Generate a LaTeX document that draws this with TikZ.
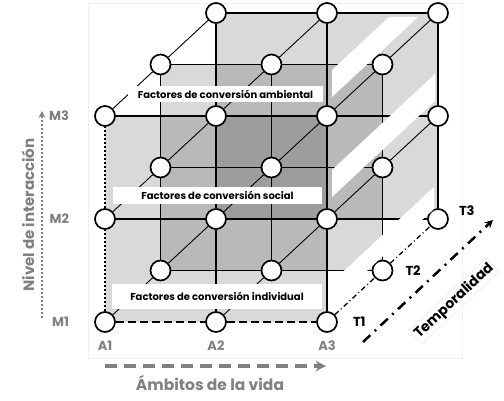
\documentclass[tikz,border=0pt]{standalone}
\usepackage{fontspec}
\setmainfont{Poppins}
\usepackage{xcolor}
\usepackage{tikz}
\usetikzlibrary{positioning}
\definecolor{axisgray}{gray}{0.5}
\tikzset{knot/.style={circle,draw,fill=white,line width=1.7pt,minimum size=20pt,inner sep=0pt}}
\tikzset{layer/.style={fill=black,fill opacity=0.15}}
\tikzset{gloss/.style={fill=white}}
\tikzset{frontline/.style={line width=2pt}}
\tikzset{backline/.style={line width=1.5pt}}
\tikzset{midline/.style={line width=1.2pt}}
\tikzset{diagline/.style={line width=0.9pt}}
\tikzset{band/.style={fill=white,inner sep=0pt,font=\fontsize{10}{12}\selectfont\bfseries}}
\tikzset{axlab/.style={text=axisgray,inner sep=0pt,font=\fontsize{13}{15}\selectfont\bfseries}}
\tikzset{tlab/.style={inner sep=0pt,font=\fontsize{13}{15}\selectfont\bfseries}}

\begin{document}
\begin{tikzpicture}[>=stealth,x={(111pt,0pt)},y={(0pt,103pt)},z={(55.5pt,51.5pt)}]
        \useasboundingbox (-105pt,-78pt) rectangle (399pt,322pt);
        \draw [gray!12] (-17pt,-36pt) rectangle (357pt,319pt);

        % three layers
        \fill [layer] (0,0,2) rectangle (2,2,2);
        \fill [layer] (0,0,1) rectangle (2,2,1);
        \fill [layer] (0,0,0) rectangle (2,2,0);

        % front layer
        \node[knot] (f11) at (0,0,0) {};
        \node[knot] (f21) at (1,0,0) {};
        \node[knot] (f31) at (2,0,0) {};
        \node[knot] (f12) at (0,1,0) {};
        \node[knot] (f22) at (1,1,0) {};
        \node[knot] (f32) at (2,1,0) {};
        \node[knot] (f13) at (0,2,0) {};
        \node[knot] (f23) at (1,2,0) {};
        \node[knot] (f33) at (2,2,0) {};
        % middle layer
        \node[knot] (m11) at (0,0,1) {};
        \node[knot] (m21) at (1,0,1) {};
        \node[knot] (m31) at (2,0,1) {};
        \node[knot] (m12) at (0,1,1) {};
        \node[knot] (m22) at (1,1,1) {};
        \node[knot] (m32) at (2,1,1) {};
        \node[knot] (m13) at (0,2,1) {};
        \node[knot] (m23) at (1,2,1) {};
        \node[knot] (m33) at (2,2,1) {};
        % back layer
        \node[knot] (b13) at (0,2,2) {};
        \node[knot] (b23) at (1,2,2) {};
        \node[knot] (b33) at (2,2,2) {};
        \node[knot] (b32) at (2,1,2) {};
        \node[knot] (b31) at (2,0,2) {};

        \draw [backline] (b13) to (b23);
        \draw [backline] (b23) to (b33);
        \draw [backline] (b13) to (f23);
        \draw [backline] (b23) to (f33);
        \draw [backline] (b33) to (b32);
        \draw [backline] (b32) to (b31);
        \draw [backline] (f33) to (b32);
        \draw [backline] (f32) to (b31);

        \draw [midline] (m13) to (m23);
        \draw [midline] (m23) to (m33);
        \draw [midline] (m12) to (m22);
        \draw [midline] (m22) to (m32);
        \draw [midline] (m11) to (m21);
        \draw [midline] (m21) to (m31);
        \draw [midline] (m11) to (m12);
        \draw [midline] (m12) to (m13);
        \draw [midline] (m21) to (m22);
        \draw [midline] (m22) to (m23);
        \draw [midline] (m31) to (m32);
        \draw [midline] (m32) to (m33);

        % white stripes
        \fill [gloss] (227pt,225pt) -- (227pt,252pt) -- (284pt,305pt) -- (313pt,305pt) -- cycle;
        \fill [gloss] (227pt,125pt) -- (227pt,152pt) -- (330pt,248pt) -- (330pt,221pt) -- cycle;
        \fill [gloss] (225pt,38pt) -- (329pt,135pt) -- (329pt,113pt) -- (225pt,17pt) -- cycle;

        \draw [frontline] (f13) to (f23);
        \draw [frontline] (f23) to (f33);
        \draw [frontline] (f12) to (f22);
        \draw [frontline] (f22) to (f32);
        \draw [frontline] (f23) to (f22);
        \draw [frontline] (f22) to (f21);
        \draw [frontline] (f33) to (f32);
        \draw [frontline] (f32) to (f31);
        \draw [frontline,dotted] (f11) to (f12);
        \draw [frontline,dotted] (f12) to (f13);
        \draw [frontline,dash pattern=on 8pt off 4pt] (f11) to (f21);
        \draw [frontline,dash pattern=on 8pt off 4pt] (f21) to (f31);

        \draw [diagline] (f13) to (m13);
        \draw [diagline] (m13) to (b13);
        \draw [diagline] (f23) to (m23);
        \draw [diagline] (m23) to (b23);
        \draw [diagline] (f33) to (m33);
        \draw [diagline] (m33) to (b33);
        \draw [diagline] (f12) to (m12);
        \draw [diagline] (m12) to (f23);
        \draw [diagline] (f22) to (m22);
        \draw [diagline] (m22) to (f33);
        \draw [diagline] (f32) to (m32);
        \draw [diagline] (m32) to (b32);
        \draw [diagline] (f11) to (m11);
        \draw [diagline] (m11) to (f22);
        \draw [diagline] (f21) to (m21);
        \draw [diagline] (m21) to (f32);
        \draw [line width=1.3pt,dash pattern=on 5pt off 3pt on 1pt off 3pt] (f31) to (m31);
        \draw [line width=1.3pt,dash pattern=on 5pt off 3pt on 1pt off 3pt] (m31) to (b31);

        % factores
        \node[band,minimum width=195pt,minimum height=16pt] (amb) at (120.5pt,228pt) {Factores de conversión ambiental};
        \node[band,minimum width=209pt,minimum height=17pt] (soc) at (112.5pt,126.5pt) {Factores de conversión social};
        \node[band,minimum width=210pt,minimum height=25pt] (ind) at (112pt,26pt) {Factores de conversión individual};

        % axes
        \node[axlab,left=25pt of f11] (M1) {M1};
        \node[axlab,left=25pt of f12] (M2) {M2};
        \node[axlab,left=25pt of f13] (M3) {M3};
        \node[axlab,below=8pt of f11] (A1) {A1};
        \node[axlab,below=8pt of f21] (A2) {A2};
        \node[axlab,below=8pt of f31] (A3) {A3};
        \node[tlab,right=15pt of f31] (T1) {T1};
        \node[tlab,right=12pt of m31] (T2) {T2};
        \node[tlab,right=10pt of b31,yshift=8pt] (T3) {T3};

        \coordinate (ms) at (-63pt,4pt);
        \coordinate (me) at (-63pt,211pt);
        \coordinate (as) at (0pt,-44pt);
        \coordinate (ae) at (221pt,-44pt);
        \coordinate (ts) at (258pt,-20pt);
        \coordinate (te) at (388pt,102pt);
        \draw [->,axisgray,line width=2pt,dotted] (ms) to (me);
        \draw [->,axisgray,line width=3.5pt,dash pattern=on 12pt off 7pt] (as) to (ae);
        \draw [->,line width=2.5pt,dash pattern=on 10pt off 6pt on 2pt off 6pt] (ts) to (te);

        \node[axlab,rotate=90,font=\fontsize{15}{17}\selectfont\bfseries] (niv) at (-77pt,107pt) {Nivel de interacción};
        \node[axlab,font=\fontsize{15.5}{17}\selectfont\bfseries] (amv) at (105pt,-61pt) {Ámbitos de la vida};
        \node[draw=gray!20,fill=white,rotate=43,inner sep=2pt,font=\fontsize{14}{16}\selectfont\bfseries] (tmp) at (349pt,21pt) {Temporalidad};
    \end{tikzpicture}
\end{document}
